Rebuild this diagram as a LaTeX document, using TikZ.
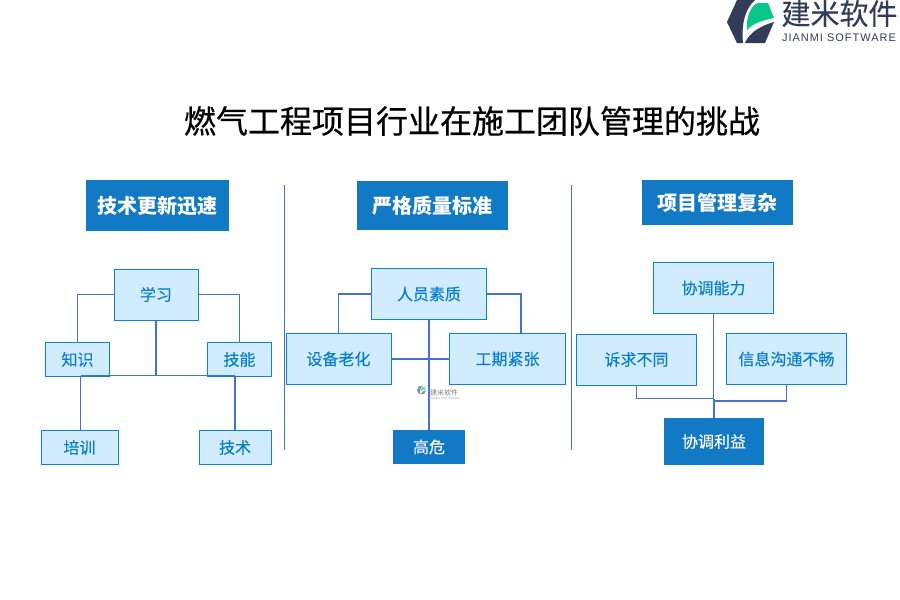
\documentclass[tikz,border=0pt]{standalone}
\usepackage{xcolor}
\usepackage{fontspec}
\setmainfont{Noto Sans CJK SC}
\newfontfamily\latinfont[LetterSpace=9]{Liberation Sans}
\newfontfamily\titlefont[FakeBold=0.5]{Noto Sans CJK SC}
\newfontfamily\labelfont[FakeBold=0.25]{Noto Sans CJK SC}
\definecolor{boxfill}{HTML}{D1ECFF}
\definecolor{boxedge}{HTML}{0B84D2}
\definecolor{boxtext}{HTML}{0A7ECB}
\definecolor{headfill}{HTML}{1279C4}
\definecolor{linkblue}{HTML}{4472CC}
\definecolor{logodark}{HTML}{323B57}
\definecolor{logogreen}{HTML}{07C88A}
\newcommand{\logomark}[1]{%
\fill[logodark,#1] (727,22) -- (737,0) -- (755,0) .. controls (746,8) and (741,22) .. (743,43) -- (737,43) -- cycle;
\fill[logodark,#1] (745,43) .. controls (749,33) and (760,26) .. (774,22) -- (765,43) -- cycle;
\fill[logogreen,#1] (747,30) .. controls (746,18) and (750,6) .. (758,3) -- (768,3) -- (774,18) .. controls (764,20) and (753,23) .. cycle;
}
\begin{document}
\begin{tikzpicture}[x=1pt,y=-1pt,inner sep=0pt,outer sep=0pt,
 lightbox/.style={draw=boxedge,fill=boxfill,line width=1pt,text=boxtext,font=\labelfont\fontsize{16}{16}\selectfont},
 darkbox/.style={fill=headfill,text=white,font=\labelfont\fontsize{16}{16}\selectfont},
 headbox/.style={fill=headfill,text=white,font=\fontsize{20}{20}\selectfont\bfseries},
 link/.style={draw=linkblue,line width=1.2pt}]
\useasboundingbox (0,0) rectangle (900,600);
\fill[white] (0,0) rectangle (900,600);

\node[text=black,font=\titlefont\fontsize{32}{32}\selectfont] (title) at (472,121) {燃气工程项目行业在施工团队管理的挑战};
\logomark{}
\node[text=logodark,font=\labelfont\fontsize{29}{29}\selectfont] (logoname) at (839.5,13.5) {建米软件};
\node[text=logodark,font=\latinfont\fontsize{11}{11}\selectfont] (logosub) at (839,38) {JIANMI SOFTWARE};

\node[headbox,minimum width=143,minimum height=51] (headA) at (157.5,205.5) {技术更新迅速};
\node[headbox,minimum width=151,minimum height=49] (headB) at (432.5,205.5) {严格质量标准};
\node[headbox,minimum width=151,minimum height=45] (headC) at (717.5,202.5) {项目管理复杂};

\coordinate (sepAt) at (284.5,185);
\coordinate (sepAb) at (284.5,450);
\coordinate (sepBt) at (571.5,185);
\coordinate (sepBb) at (571.5,450);
\draw[link] (sepAt) -- (sepAb);
\draw[link] (sepBt) -- (sepBb);

% left
\node[lightbox,minimum width=84,minimum height=51] (xuexi) at (156,294.5) {学习};
\node[lightbox,minimum width=64,minimum height=34] (zhishi) at (77.5,359.5) {知识};
\node[lightbox,minimum width=64,minimum height=34] (jineng) at (239.5,359.5) {技能};
\node[lightbox,minimum width=77,minimum height=34] (peixun) at (79.5,447.5) {培训};
\node[lightbox,minimum width=72,minimum height=34] (jishu) at (235,447.5) {技术};
\coordinate (busL) at (80.5,375.5);
\coordinate (busR) at (235,375.5);
\draw[link] (xuexi.west) -| (zhishi.north);
\draw[link] (xuexi.east) -| (jineng.north);
\draw[link] (xuexi.south) -- (xuexi.south |- busL);
\draw[link] (busL) -- (busR);
\draw[link] (busL) -- (busL |- peixun.north);
\draw[link] (busR) -- (busR |- jishu.north);

% middle
\node[lightbox,minimum width=115,minimum height=51] (renyuan) at (429,294) {人员素质};
\node[lightbox,minimum width=105,minimum height=51] (shebei) at (338.5,359) {设备老化};
\node[lightbox,minimum width=116,minimum height=51] (gongqi) at (507.5,359) {工期紧张};
\node[darkbox,minimum width=72,minimum height=34] (gaowei) at (429,447) {高危};
\coordinate (gongqiTop) at (521,333);
\draw[link] (renyuan.west) -| (shebei.north);
\draw[link] (renyuan.east) -| (gongqiTop);
\draw[link] (renyuan.south) -- (gaowei.north);
\draw[link] (shebei.east) -- (gongqi.west);
\begin{scope}[shift={(417,386)},x=0.19pt,y=-0.19pt,shift={(-727,0)}]
\logomark{opacity=.55}
\end{scope}
\node[text=gray,font=\fontsize{7}{7}\selectfont] (markname) at (444,392.5) {建米软件};
\node[text=gray!70,font=\latinfont\fontsize{3}{3}\selectfont] (marksub) at (444,398.5) {JIANMI SOFTWARE};

% right
\node[lightbox,minimum width=120,minimum height=51] (nengli) at (713.5,288) {协调能力};
\node[lightbox,minimum width=120,minimum height=51] (suqiu) at (636.5,359.5) {诉求不同};
\node[lightbox,minimum width=120,minimum height=51] (xinxi) at (786.5,359) {信息沟通不畅};
\node[darkbox,minimum width=100,minimum height=47] (liyi) at (714,441.5) {协调利益};
\coordinate (joinA) at (714,398.5);
\coordinate (joinB) at (714,401);
\draw[link] (nengli.south) -- (nengli.south |- liyi.north);
\draw[link] (suqiu.south) |- (joinA);
\draw[link] (xinxi.south) |- (joinB);
\draw[link] (joinA) -- (joinA |- liyi.north);
\end{tikzpicture}
\end{document}
